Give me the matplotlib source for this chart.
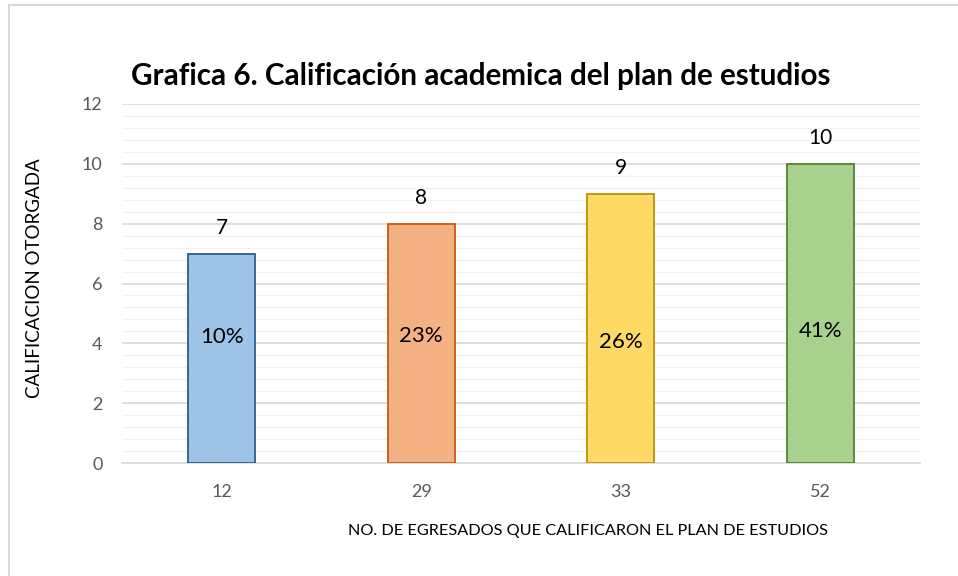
import matplotlib
matplotlib.use("Agg")
import matplotlib.pyplot as plt
from matplotlib.patches import Rectangle
from matplotlib.ticker import MultipleLocator

categories = ["12", "29", "33", "52"]
values = [7, 8, 9, 10]
percent_labels = ["10%", "23%", "26%", "41%"]
percent_y = [4.2, 4.25, 4.05, 4.4]

fill_colors = ["#9DC3E6", "#F4B183", "#FFD966", "#A9D18E"]
edge_colors = ["#2E5C8A", "#C55A11", "#BF9000", "#548235"]

plt.rcParams['font.family'] = ['Lato', 'DejaVu Sans']

fig = plt.figure(figsize=(9.58, 5.76), dpi=100)
fig.patches.append(Rectangle((9/958, -0.1), 1.2, 1 - 5/576 + 0.1, transform=fig.transFigure,
                             fill=False, edgecolor="#D9D9D9", linewidth=1.5))
ax = fig.add_axes([122/958, 1 - 463/576, (920 - 122)/958, (463 - 104)/576])

x = list(range(len(categories)))
ax.bar(x, values, width=0.335, color=fill_colors, edgecolor=edge_colors, linewidth=1.3, zorder=3)

ax.set_xlim(-0.5, len(categories) - 0.5)
ax.set_ylim(0, 12)
ax.yaxis.set_major_locator(MultipleLocator(2))
ax.yaxis.set_minor_locator(MultipleLocator(0.4))
ax.grid(axis='y', which='major', color="#D9D9D9", linewidth=1.2, zorder=0)
ax.grid(axis='y', which='minor', color="#F2F2F2", linewidth=1.0, zorder=0)
ax.set_axisbelow(True)

for s in ['top', 'right', 'left']:
    ax.spines[s].set_visible(False)
ax.spines['bottom'].set_color("#D9D9D9")
ax.spines['bottom'].set_linewidth(1.2)

ax.set_xticks(x)
ax.set_xticklabels(categories)
ax.tick_params(axis='both', which='both', length=0, labelsize=13, colors="#595959")
ax.tick_params(axis='x', pad=15)
ax.tick_params(axis='y', pad=14)

for xi, v, p, py in zip(x, values, percent_labels, percent_y):
    ax.text(xi, v + 0.85, str(v), ha='center', va='center', fontsize=15, color='black')
    ax.text(xi, py, p, ha='center', va='center', fontsize=16, color='black', zorder=4)

fig.text(588/958, 1 - 531/576, "NO. DE EGRESADOS QUE CALIFICARON EL PLAN DE ESTUDIOS",
         ha='center', va='center', fontsize=11.7, color='black')
fig.text(35/958, 1 - 278/576, "CALIFICACION OTORGADA", rotation=90,
         ha='center', va='center', fontsize=13.5, color='black')

fig.text(481/958, 1 - 76/576, "Grafica 6. Calificación academica del plan de estudios",
         ha='center', va='center', fontsize=21.3, fontweight='bold', color='black')

fig.savefig("out.png", dpi=100)
